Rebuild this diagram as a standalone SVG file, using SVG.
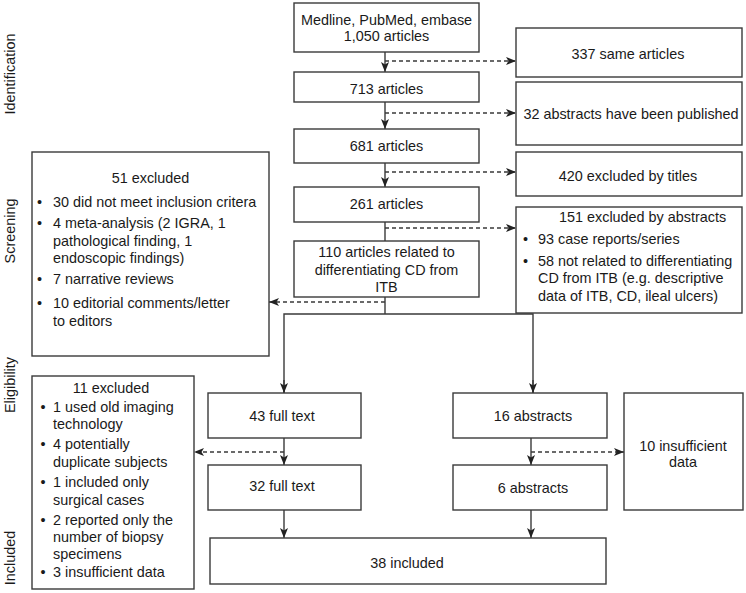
<svg xmlns="http://www.w3.org/2000/svg" width="746" height="593" viewBox="0 0 746 593">
<defs>
<style>
text{font-family:"Liberation Sans",Arial,Helvetica,sans-serif;font-size:14.4px;fill:#1a1a1a}
.c{text-anchor:middle}
.box{fill:#fff;stroke:#3a3a3a;stroke-width:1.4}
.ln{fill:none;stroke:#3a3a3a;stroke-width:1.4}
.ds{fill:none;stroke:#3a3a3a;stroke-width:1.3;stroke-dasharray:4 3}
.lab{text-anchor:middle}
</style>
<marker id="ah" markerUnits="userSpaceOnUse" markerWidth="11" markerHeight="10" refX="10" refY="4.5" orient="auto">
<path d="M0,0.5 L10,4.5 L0,8.5 L2.5,4.5 z" fill="#222"/>
</marker>
</defs>
<rect width="746" height="593" fill="#fff"/>

<g id="stage-labels">
<text class="lab" transform="translate(15,74) rotate(-90)">Identification</text>
<text class="lab" transform="translate(15,231) rotate(-90)">Screening</text>
<text class="lab" transform="translate(15,385) rotate(-90)">Eligibility</text>
<text class="lab" transform="translate(15,558) rotate(-90)">Included</text>
</g>

<g id="connectors">
<line class="ln" x1="385" y1="52" x2="385" y2="72" marker-end="url(#ah)"/>
<line class="ln" x1="385" y1="102" x2="385" y2="129" marker-end="url(#ah)"/>
<line class="ln" x1="385" y1="163" x2="385" y2="187" marker-end="url(#ah)"/>
<line class="ln" x1="385" y1="222" x2="385" y2="241"/>
<line class="ln" x1="385" y1="297" x2="385" y2="314"/>
<polyline class="ln" points="284,393 284,314 533,314 533,393"/>
<line class="ln" x1="284" y1="380" x2="284" y2="393" marker-end="url(#ah)"/>
<line class="ln" x1="533" y1="380" x2="533" y2="393" marker-end="url(#ah)"/>
<line class="ln" x1="284" y1="438" x2="284" y2="465" marker-end="url(#ah)"/>
<line class="ln" x1="531" y1="438" x2="531" y2="465" marker-end="url(#ah)"/>
<line class="ln" x1="284" y1="510" x2="284" y2="538" marker-end="url(#ah)"/>
<line class="ln" x1="531" y1="510" x2="531" y2="538" marker-end="url(#ah)"/>
<line class="ds" x1="385" y1="61" x2="516" y2="61" marker-end="url(#ah)"/>
<line class="ds" x1="385" y1="113" x2="516" y2="113" marker-end="url(#ah)"/>
<line class="ds" x1="385" y1="172" x2="516" y2="172" marker-end="url(#ah)"/>
<line class="ds" x1="385" y1="228" x2="516" y2="228" marker-end="url(#ah)"/>
<line class="ds" x1="385" y1="302" x2="269" y2="302" marker-end="url(#ah)"/>
<line class="ds" x1="284" y1="452" x2="194" y2="452" marker-end="url(#ah)"/>
<line class="ds" x1="531" y1="452" x2="624" y2="452" marker-end="url(#ah)"/>
</g>

<g id="n-medline">
<rect class="box" x="294" y="3" width="185" height="49"/>
<text class="c" x="386.5" y="25">Medline, PubMed, embase</text>
<text class="c" x="386.5" y="41">1,050 articles</text>
</g>
<g id="n-713">
<rect class="box" x="294" y="72" width="185" height="30"/>
<text class="c" x="386.5" y="94">713 articles</text>
</g>
<g id="n-681">
<rect class="box" x="294" y="129" width="185" height="34"/>
<text class="c" x="386.5" y="151">681 articles</text>
</g>
<g id="n-261">
<rect class="box" x="294" y="187" width="185" height="35"/>
<text class="c" x="386.5" y="209">261 articles</text>
</g>
<g id="n-110">
<rect class="box" x="294" y="241" width="185" height="56"/>
<text class="c" x="386.5" y="257">110 articles related to</text>
<text class="c" x="386.5" y="274.5">differentiating CD from</text>
<text class="c" x="386.5" y="292">ITB</text>
</g>

<g id="n-337">
<rect class="box" x="516" y="28" width="226" height="49"/>
<text class="c" x="628" y="59">337 same articles</text>
</g>
<g id="n-32abs">
<rect class="box" x="516" y="82" width="226" height="63"/>
<text class="c" x="631" y="119">32 abstracts have been published</text>
</g>
<g id="n-420">
<rect class="box" x="516" y="152" width="226" height="44"/>
<text class="c" x="628" y="181">420 excluded by titles</text>
</g>
<g id="n-151">
<rect class="box" x="516" y="207" width="226" height="106"/>
<text x="559" y="222">151 excluded by abstracts</text>
<text x="523" y="244">•</text>
<text x="538" y="244">93 case reports/series</text>
<text x="523" y="266">•</text>
<text x="538" y="266">58 not related to differentiating</text>
<text x="538" y="283">CD from ITB (e.g. descriptive</text>
<text x="538" y="301">data of ITB, CD, ileal ulcers)</text>
</g>

<g id="n-51">
<rect class="box" x="32" y="152" width="237" height="204"/>
<text class="c" x="150.5" y="183">51 excluded</text>
<text x="37" y="207">•</text>
<text x="53" y="207">30 did not meet inclusion critera</text>
<text x="37" y="228">•</text>
<text x="53" y="228">4 meta-analysis (2 IGRA, 1</text>
<text x="53" y="246">pathological finding, 1</text>
<text x="53" y="263">endoscopic findings)</text>
<text x="37" y="284">•</text>
<text x="53" y="284">7 narrative reviews</text>
<text x="37" y="308">•</text>
<text x="53" y="308">10 editorial comments/letter</text>
<text x="53" y="326">to editors</text>
</g>

<g id="n-11">
<rect class="box" x="32" y="376" width="162" height="213"/>
<text class="c" x="111" y="393">11 excluded</text>
<text x="40.5" y="412">•</text>
<text x="53" y="412">1 used old imaging</text>
<text x="53" y="429">technology</text>
<text x="40.5" y="449">•</text>
<text x="53" y="449">4 potentially</text>
<text x="53" y="467">duplicate subjects</text>
<text x="40.5" y="487">•</text>
<text x="53" y="487">1 included only</text>
<text x="53" y="505">surgical cases</text>
<text x="40.5" y="525">•</text>
<text x="53" y="525">2 reported only the</text>
<text x="53" y="542">number of biopsy</text>
<text x="53" y="559">specimens</text>
<text x="40.5" y="577">•</text>
<text x="53" y="577">3 insufficient data</text>
</g>

<g id="n-43">
<rect class="box" x="208" y="393" width="153" height="45"/>
<text class="c" x="282" y="421">43 full text</text>
</g>
<g id="n-32full">
<rect class="box" x="208" y="465" width="153" height="45"/>
<text class="c" x="282" y="491">32 full text</text>
</g>
<g id="n-16">
<rect class="box" x="453" y="393" width="154" height="45"/>
<text class="c" x="533" y="421">16 abstracts</text>
</g>
<g id="n-6">
<rect class="box" x="453" y="465" width="154" height="45"/>
<text class="c" x="533" y="493">6 abstracts</text>
</g>
<g id="n-10">
<rect class="box" x="624" y="393" width="119" height="117"/>
<text class="c" x="683" y="451">10 insufficient</text>
<text class="c" x="683" y="467">data</text>
</g>
<g id="n-38">
<rect class="box" x="210" y="538" width="396" height="46"/>
<text class="c" x="407" y="568">38 included</text>
</g>
</svg>
